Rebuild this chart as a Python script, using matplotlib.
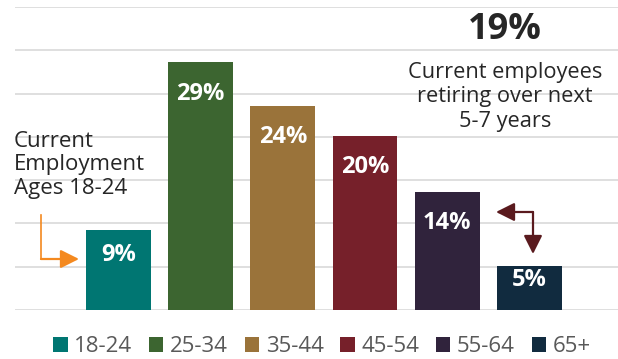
import matplotlib.pyplot as plt

ages = ['18-24', '25-34', '35-44', '45-54', '55-64', '65+']
shares = [9.2, 28.6, 23.6, 20.1, 13.6, 5.1]
colors = ['#007672', '#3C6530', '#9A733A', '#76202A', '#30233C', '#112B3F']

W, H = 618, 359


def px(x, y):
    # pixel position -> figure fraction
    return (x / W, 1 - y / H)


def main():
    plt.rcParams['font.family'] = ['Open Sans', 'DejaVu Sans']
    fig = plt.figure(figsize=(W / 100, H / 100), dpi=100)
    ax = fig.add_axes([15 / W, 1 - 310 / H, 1 - 15 / W, (310 - 7) / H])

    xs = list(range(len(ages)))
    bars = ax.bar(xs, shares, width=0.79, color=colors, zorder=3)
    ax.set_xlim(-1.26, 6.08)
    ax.set_ylim(0, 35)
    ax.set_yticks(range(0, 36, 5))
    ax.yaxis.grid(True, color='#D9D9D9', linewidth=1.2, zorder=0)
    ax.set_xticks([])
    ax.tick_params(left=False, labelleft=False)
    for s in ax.spines.values():
        s.set_visible(False)

    for x, v in zip(xs, shares):
        ax.text(x, v - min(3.6, 0.31 * v), f'{round(v)}%', ha='center',
                va='center', color='white', fontsize=17, fontweight='bold',
                zorder=4)

    # legend
    leg = ax.legend(bars, ages, loc='center', bbox_to_anchor=px(322, 347),
                    bbox_transform=fig.transFigure, ncol=6, frameon=False,
                    fontsize=16, handlelength=0.65, handleheight=0.65,
                    handletextpad=0.3, columnspacing=0.75)
    for t in leg.get_texts():
        t.set_color('#595959')

    # callouts
    fig.text(*px(505, 30), '19%', ha='center', va='center', fontsize=26,
             fontweight='bold', color='#262626')
    fig.text(*px(505, 97), 'Current employees\nretiring over next\n5-7 years',
             ha='center', va='center', fontsize=15.7, color='#262626',
             linespacing=1.2)
    fig.text(*px(14, 165), 'Current\nEmployment\nAges 18-24',
             ha='left', va='center', fontsize=16, color='#262626',
             linespacing=1.17)

    # orange arrow
    orange = '#F4891F'
    fig.add_artist(plt.Line2D(*zip(px(41, 215), px(41, 259)),
                              color=orange, linewidth=1.2))
    ax.annotate('', xy=px(79, 259), xytext=px(41, 259), xycoords='figure fraction',
                textcoords='figure fraction',
                arrowprops=dict(arrowstyle='-|>', color=orange, lw=1.6,
                                mutation_scale=28, shrinkA=0, shrinkB=0))

    # maroon double arrow
    maroon = '#5A1A1E'
    for tip in [(496, 212), (533, 254)]:
        ax.annotate('', xy=px(*tip), xytext=px(533, 212), xycoords='figure fraction',
                    textcoords='figure fraction',
                    arrowprops=dict(arrowstyle='-|>', color=maroon, lw=1.6,
                                    mutation_scale=28, shrinkA=0, shrinkB=0))

    fig.savefig('out.png', dpi=100)


if __name__ == '__main__':
    main()
